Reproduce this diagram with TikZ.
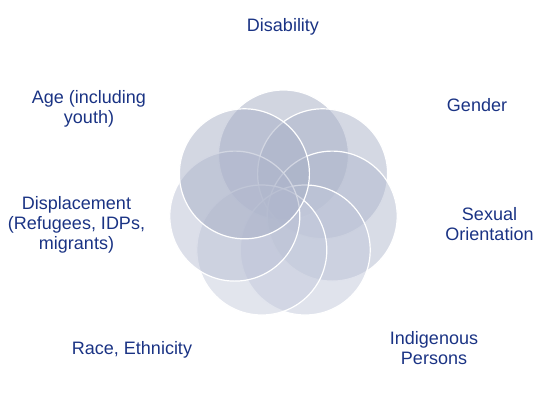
\documentclass[tikz,border=0pt]{standalone}
\usepackage{fontspec}
\setmainfont{Liberation Sans}
\definecolor{txt}{HTML}{1A3384}
\definecolor{cA}{RGB}{163,171,194}
\definecolor{cB}{RGB}{169,177,200}
\definecolor{cC}{RGB}{177,185,206}
\definecolor{cD}{RGB}{193,199,218}
\definecolor{cE}{RGB}{197,203,220}
\definecolor{cF}{RGB}{185,191,212}
\definecolor{cG}{RGB}{167,175,198}
\begin{document}
\begin{tikzpicture}[x=1pt,y=-1pt,
  lbl/.style={text=txt,font=\fontsize{18}{20}\selectfont,align=center,inner sep=0pt,anchor=base},
  petal/.style={circle,minimum size=130pt,inner sep=0pt,fill=#1,fill opacity=0.5,draw=white,line width=1.2pt}]
\useasboundingbox (0,0) rectangle (553,415);
% circles
\node[petal=cA] (disab) at (283.5,155) {};
\node[petal=cB] (gend)  at (322.6,173.8) {};
\node[petal=cC] (sexo)  at (332.2,216.1) {};
\node[petal=cD] (indig) at (305.2,250.0) {};
\node[petal=cE] (race)  at (261.8,250.0) {};
\node[petal=cF] (displ) at (234.8,216.1) {};
\node[petal=cG] (age)   at (244.4,173.8) {};
% labels (anchor = baseline of last line)
\node[lbl] (tdisab) at (283,31.5) {Disability};
\node[lbl] (tgend)  at (477,111) {Gender};
\node[lbl] (tsexo)  at (489.5,240) {Sexual\\Orientation};
\node[lbl] (tindig) at (434,364) {Indigenous\\Persons};
\node[lbl] (trace)  at (132,354) {Race, Ethnicity};
\node[lbl] (tdispl) at (76.5,249) {Displacement\\(Refugees, IDPs,\\migrants)};
\node[lbl] (tage)   at (89,123) {Age (including\\youth)};
\end{tikzpicture}
\end{document}
